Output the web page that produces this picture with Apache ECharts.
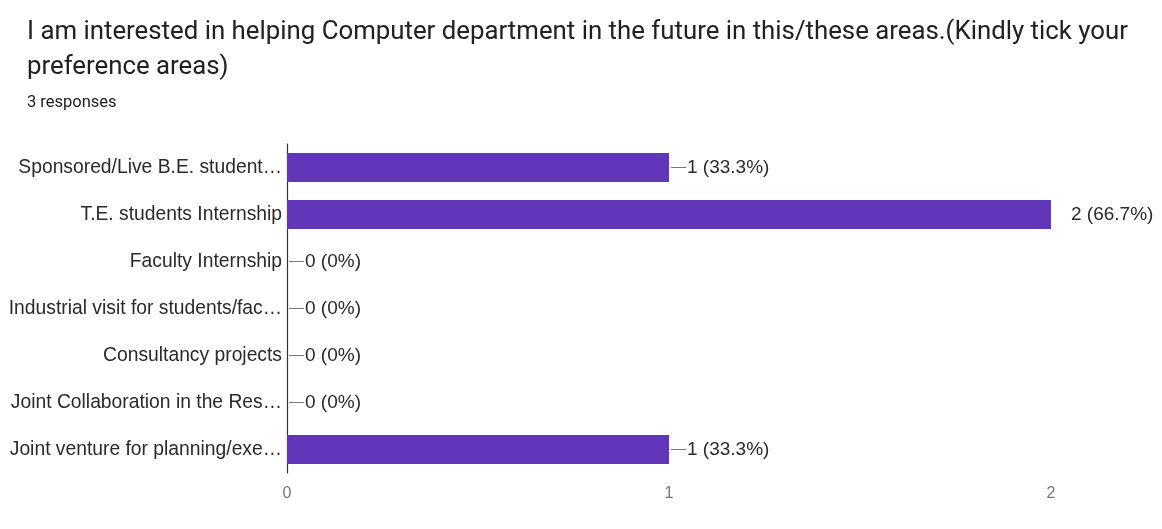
<!DOCTYPE html>
<html>
<head>
<meta charset="utf-8">
<script src="https://cdn.jsdelivr.net/npm/echarts@6/dist/echarts.min.js"></script>
<style>html,body{margin:0;padding:0;background:#fff;}#c{width:1162px;height:529px;}</style>
</head>
<body>
<div id="c"></div>
<script>
const titleText = "I am interested in helping Computer department in the future in this/these areas.(Kindly tick your\npreference areas)";
const subtitleText = "3 responses";
const categories = [
  "Sponsored/Live B.E. student…",
  "T.E. students Internship",
  "Faculty Internship",
  "Industrial visit for students/fac…",
  "Consultancy projects",
  "Joint Collaboration in the Res…",
  "Joint venture for planning/exe…"
];
const counts = [1, 2, 0, 0, 0, 0, 1];
const percents = ["33.3%", "66.7%", "0%", "0%", "0%", "0%", "33.3%"];
const xTicks = [0, 1, 2];

const maxCount = Math.max(...counts);
const chart = echarts.init(document.getElementById('c'));
chart.setOption({
  backgroundColor: '#fff',
  animation: false,
  title: [
    { text: titleText, left: 22, top: 10,
      textStyle: { fontFamily: 'Roboto', fontSize: 25.8, fontWeight: 'normal', color: '#202124', lineHeight: 35 } },
    { text: subtitleText, left: 22, top: 89,
      textStyle: { fontFamily: 'Roboto', fontSize: 16.5, fontWeight: 'normal', color: '#202124' } }
  ],
  grid: { left: 287, right: 111, top: 144, height: 329, containLabel: false },
  xAxis: {
    type: 'value', min: 0, max: 2, interval: 1,
    axisLine: { show: false }, axisTick: { show: false }, splitLine: { show: false },
    axisLabel: { color: '#777', fontFamily: 'Liberation Sans', fontSize: 16, margin: 13,
      formatter: v => xTicks.includes(v) ? String(v) : '' }
  },
  yAxis: {
    type: 'category', data: categories, inverse: true,
    axisLine: { show: true, lineStyle: { color: '#333', width: 1.2 } },
    axisTick: { show: false },
    axisLabel: { color: '#2a2a2a', fontFamily: 'Liberation Sans', fontSize: 19.3, margin: 5 }
  },
  series: [{
    type: 'bar',
    data: counts.map((v, i) => ({
      value: v,
      label: {
        show: true, position: 'right',
        distance: v === maxCount ? 20 : 2,
        formatter: (v === maxCount ? '' : '{d| }{g| }') + v + ' (' + percents[i] + ')'
      }
    })),
    barWidth: 29,
    itemStyle: { color: '#6236b8' },
    label: {
      color: '#2a2a2a', fontFamily: 'Liberation Sans', fontSize: 19,
      rich: {
        d: { width: 15, height: 1, backgroundColor: '#777', fontSize: 1, verticalAlign: 'middle' },
        g: { width: 1, fontSize: 1 }
      }
    }
  }]
});
</script>
</body>
</html>
